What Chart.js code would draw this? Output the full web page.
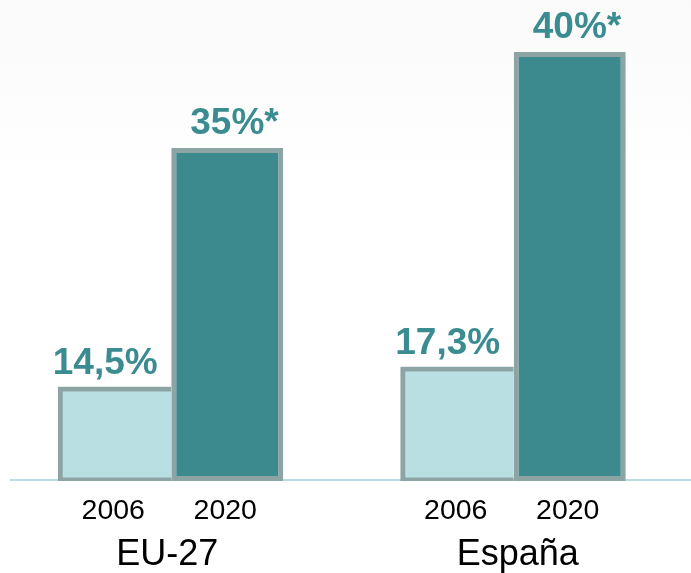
<!DOCTYPE html>
<html>
<head>
<meta charset="utf-8">
<script src="https://cdn.jsdelivr.net/npm/chart.js@4"></script>
<style>
  html, body { margin: 0; padding: 0; background: #ffffff; }
  body { width: 691px; height: 573px; overflow: hidden;
         background: linear-gradient(to bottom, #fafafa 0px, #fdfdfd 110px, #ffffff 180px); }
  #wrap { width: 691px; height: 573px; }
</style>
</head>
<body>
<div id="wrap"><canvas id="c" width="691" height="573"></canvas></div>
<script>
// Categories (groups) and series (years)
const groups = ["EU-27", "España"];
const years = ["2006", "2020"];
// Printed values
const labels2006 = ["14,5%", "17,3%"];
const labels2020 = ["35%", "40%"];
const labelSuffix2020 = "*";
// Bar heights as drawn in the picture (the drawing is not to scale), arbitrary units
const heights2006 = [93, 113];
const heights2020 = [333, 429];
const yMax = 481;

const LIGHT = "#b9dfe2", DARK = "#3d8a8e", BORDER = "#8ca4a4", TEAL = "#3b8c91";
const FONT = "'Liberation Sans', Arial, sans-serif";

const decor = {
  id: "decor",
  beforeDatasetsDraw(chart) {
    const ctx = chart.ctx, y = chart.scales.y.getPixelForValue(0);
    ctx.save();
    ctx.strokeStyle = "#b5dde2";
    ctx.lineWidth = 2;
    ctx.beginPath();
    ctx.moveTo(10, y - 1);
    ctx.lineTo(691, y - 1);
    ctx.stroke();
    ctx.restore();
  },
  afterDatasetsDraw(chart) {
    const ctx = chart.ctx;
    ctx.save();
    const m0 = chart.getDatasetMeta(0).data, m1 = chart.getDatasetMeta(1).data;
    // value labels
    ctx.fillStyle = TEAL;
    ctx.font = "bold 37px " + FONT;
    ctx.textBaseline = "alphabetic";
    m0.forEach((b, i) => {
      ctx.textAlign = "center";
      ctx.fillText(labels2006[i], b.x - 10, b.y - 14);
    });
    m1.forEach((b, i) => {
      ctx.textAlign = "center";
      const w = ctx.measureText(labels2020[i]).width;
      ctx.fillText(labels2020[i], b.x, b.y - 14);
      ctx.textAlign = "left";
      ctx.fillText(labelSuffix2020, b.x + w / 2, b.y - 14);
    });
    // year tick labels
    ctx.fillStyle = "#000";
    ctx.font = "28.5px " + FONT;
    ctx.textAlign = "center";
    ctx.textBaseline = "alphabetic";
    [m0, m1].forEach((arr, k) => arr.forEach(b => ctx.fillText(years[k], b.x - 2, 519)));
    // group labels
    ctx.font = "36px " + FONT;
    const xs = chart.scales.x;
    groups.forEach((g, i) => ctx.fillText(g, xs.getPixelForValue(i) + (i === 1 ? 4 : -4), 565));
    ctx.restore();
  }
};

new Chart(document.getElementById("c"), {
  type: "bar",
  data: {
    labels: groups,
    datasets: [
      { label: years[0], data: heights2006, backgroundColor: LIGHT, borderColor: BORDER,
        borderWidth: { top: 5, left: 5, bottom: 5, right: 0 }, borderSkipped: false, borderRadius: 0,
        inflateAmount: 1.5, categoryPercentage: 0.654, barPercentage: 1.0 },
      { label: years[1], data: heights2020, backgroundColor: DARK, borderColor: BORDER,
        borderWidth: 5, borderSkipped: false, borderRadius: 0,
        inflateAmount: 0, categoryPercentage: 0.654, barPercentage: 1.0 }
    ]
  },
  options: {
    responsive: false,
    animation: false,
    events: [],
    layout: { padding: { top: 0, left: 0, right: 6, bottom: 92 } },
    plugins: { legend: { display: false }, tooltip: { enabled: false } },
    scales: {
      x: { display: false, grid: { display: false } },
      y: { display: false, min: 0, max: yMax, grid: { display: false } }
    }
  },
  plugins: [decor]
});
</script>
</body>
</html>
